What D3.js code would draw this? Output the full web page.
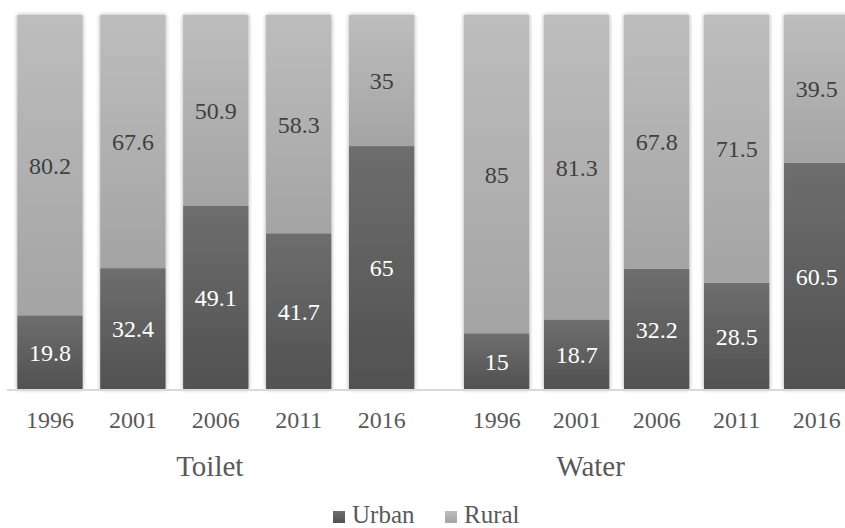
<!DOCTYPE html>
<html>
<head>
<meta charset="utf-8">
<script src="https://cdn.jsdelivr.net/npm/d3@7/dist/d3.min.js"></script>
</head>
<body style="margin:0">
<script>
// Share of households (%) by area, per survey year
const years = ["1996", "2001", "2006", "2011", "2016"];
const groups = ["Toilet", "Water"];
const seriesNames = ["Urban", "Rural"];
const toiletUrban = [19.8, 32.4, 49.1, 41.7, 65];
const toiletRural = [80.2, 67.6, 50.9, 58.3, 35];
const waterUrban = [15, 18.7, 32.2, 28.5, 60.5];
const waterRural = [85, 81.3, 67.8, 71.5, 39.5];

// typeface for all chart text
const faceName = () => '"Liberation Serif"';

const W = 845, H = 528;
const svg = d3.select("body").append("svg").attr("width", W).attr("height", H);
const defs = svg.append("defs");

// vertical shading for each segment
function grad(id, top, bottom) {
  const g = defs.append("linearGradient").attr("id", id)
    .attr("x1", 0).attr("y1", 0).attr("x2", 0).attr("y2", 1);
  g.append("stop").attr("offset", "0%").attr("stop-color", top);
  g.append("stop").attr("offset", "100%").attr("stop-color", bottom);
}
grad("gUrban", "#6e6e6e", "#515151");
grad("gRural", "#bdbdbd", "#a4a4a4");

// soft glow around bars
const f = defs.append("filter").attr("id", "glow")
  .attr("x", "-20%").attr("y", "-5%").attr("width", "140%").attr("height", "110%");
f.append("feGaussianBlur").attr("in", "SourceAlpha").attr("stdDeviation", 2.2).attr("result", "b");
f.append("feComponentTransfer").attr("in", "b").attr("result", "s")
  .append("feFuncA").attr("type", "linear").attr("slope", 0.35);
const m = f.append("feMerge");
m.append("feMergeNode").attr("in", "s");
m.append("feMergeNode").attr("in", "SourceGraphic");

const y = d3.scaleLinear().domain([0, 100]).range([389.5, 15]);

const groupData = [
  { name: groups[0], urban: toiletUrban, rural: toiletRural, shift: -6,
    x: d3.scaleBand().domain(years).range([17.3, 414.3]).paddingInner(0.212).paddingOuter(0) },
  { name: groups[1], urban: waterUrban, rural: waterRural, shift: -66,
    x: d3.scaleBand().domain(years).range([464, 849.3]).paddingInner(0.184).paddingOuter(0) }
];

const stack = d3.stack().keys(seriesNames);
const fills = { Urban: "url(#gUrban)", Rural: "url(#gRural)" };
const labelColors = { Urban: "#ffffff", Rural: "#404040" };

// bars
groupData.forEach(g => {
  const rows = years.map((yr, i) => ({ year: yr, Urban: g.urban[i], Rural: g.rural[i] }));
  g.layers = stack(rows);
  const barG = svg.append("g").attr("filter", "url(#glow)");
  g.layers.forEach(layer => {
    barG.selectAll(null).data(layer).join("rect")
      .attr("x", d => g.x(d.data.year))
      .attr("width", g.x.bandwidth())
      .attr("y", d => y(d[1]))
      .attr("height", d => y(d[0]) - y(d[1]))
      .attr("fill", fills[layer.key]);
  });
});

// baseline
svg.append("line")
  .attr("x1", 7).attr("x2", W)
  .attr("y1", y(0) + 0.5).attr("y2", y(0) + 0.5)
  .attr("stroke", "#d9d9d9").attr("stroke-width", 2);

// value labels, centred in each segment
const valueLabels = [];
groupData.forEach(g => {
  g.layers.forEach(layer => {
    layer.forEach(d => valueLabels.push({
      x: g.x(d.data.year) + g.x.bandwidth() / 2,
      y: (y(d[0]) + y(d[1])) / 2,
      text: d.data[layer.key],
      color: labelColors[layer.key]
    }));
  });
});
svg.selectAll("text.value").data(valueLabels).join("text")
  .attr("class", "value")
  .attr("x", d => d.x)
  .attr("y", d => d.y)
  .attr("dy", "0.35em")
  .attr("text-anchor", "middle")
  .attr("font-size", 24)
  .style("font-family", faceName)
  .style("fill", d => d.color)
  .text(d => d.text);

// year tick labels from each group's band scale
const tickLabels = [];
groupData.forEach(g => {
  g.x.domain().forEach(yr => tickLabels.push({ x: g.x(yr) + g.x.bandwidth() / 2, text: yr }));
});
svg.selectAll("text.tick").data(tickLabels).join("text")
  .attr("class", "tick")
  .attr("x", d => d.x)
  .attr("y", 428)
  .attr("text-anchor", "middle")
  .attr("font-size", 24)
  .style("font-family", faceName)
  .style("fill", "#595959")
  .text(d => d.text);

// group labels
svg.selectAll("text.group").data(groupData).join("text")
  .attr("class", "group")
  .attr("x", g => (g.x.range()[0] + g.x.range()[1]) / 2 + g.shift)
  .attr("y", 476)
  .attr("text-anchor", "middle")
  .attr("font-size", 29)
  .style("font-family", faceName)
  .style("fill", "#595959")
  .text(g => g.name);

// legend
const legendX = [333, 445];
svg.selectAll("rect.key").data(seriesNames).join("rect")
  .attr("class", "key")
  .attr("x", (s, i) => legendX[i]).attr("y", 511)
  .attr("width", 12).attr("height", 12)
  .attr("fill", s => fills[s]);
svg.selectAll("text.key").data(seriesNames).join("text")
  .attr("class", "key")
  .attr("x", (s, i) => legendX[i] + 19).attr("y", 523)
  .attr("font-size", 25)
  .style("font-family", faceName)
  .style("fill", "#595959")
  .text(s => s);
</script>
</body>
</html>
